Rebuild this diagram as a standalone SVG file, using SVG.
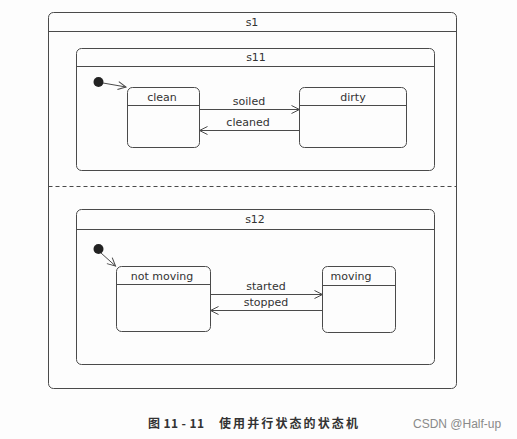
<svg xmlns="http://www.w3.org/2000/svg" width="517" height="439" viewBox="0 0 517 439">
<style>
.box{fill:none;stroke:#4a4a4a;stroke-width:1}
.ln{fill:none;stroke:#4a4a4a;stroke-width:1}
.t{font-family:"DejaVu Sans","Liberation Sans",sans-serif;font-size:11px;fill:#333;text-anchor:middle}
.init{fill:#222}
.edge{fill:none;stroke:#4a4a4a;stroke-width:1;marker-end:url(#open)}
.cap{font-family:"Noto Sans CJK SC",sans-serif;font-size:12px;font-weight:bold;fill:#333}
.wm{font-family:"Liberation Sans",sans-serif;font-size:12px;fill:#8a8a8a}
</style>
<defs>
<marker id="open" markerUnits="userSpaceOnUse" markerWidth="12" markerHeight="12" refX="9" refY="5" orient="auto">
<path d="M1,1 L9,5 L1,9" fill="none" stroke="#4a4a4a" stroke-width="1"/>
</marker>
</defs>
<rect width="517" height="439" fill="#fdfdfd"/>
<g id="s1">
<rect class="box" x="48.5" y="12.5" width="408" height="376" rx="5"/>
<line class="ln" x1="48.5" y1="31.5" x2="456.5" y2="31.5"/>
<text class="t" x="252" y="26">s1</text>
<line x1="48.5" y1="186.5" x2="456.5" y2="186.5" stroke="#4a4a4a" stroke-width="1" stroke-dasharray="4,3"/>
</g>
<g id="s11">
<rect class="box" x="76.5" y="48.5" width="358" height="122" rx="5"/>
<line class="ln" x1="76.5" y1="66.5" x2="434.5" y2="66.5"/>
<text class="t" x="256" y="61">s11</text>
</g>
<g id="init1"><circle class="init" cx="98.5" cy="82" r="5"/></g>
<g id="clean">
<rect class="box" x="127.5" y="87.5" width="72" height="60" rx="5"/>
<line class="ln" x1="127.5" y1="105.5" x2="199.5" y2="105.5"/>
<text class="t" x="162" y="101">clean</text>
</g>
<g id="dirty">
<rect class="box" x="299.5" y="87.5" width="107" height="60" rx="5"/>
<line class="ln" x1="299.5" y1="105.5" x2="406.5" y2="105.5"/>
<text class="t" x="353" y="101">dirty</text>
</g>
<g id="s12">
<rect class="box" x="76.5" y="209.5" width="358" height="155" rx="5"/>
<line class="ln" x1="76.5" y1="229.5" x2="434.5" y2="229.5"/>
<text class="t" x="255" y="223">s12</text>
</g>
<g id="init2"><circle class="init" cx="98.5" cy="249" r="5"/></g>
<g id="notmoving">
<rect class="box" x="116.5" y="266.5" width="94" height="65" rx="5"/>
<line class="ln" x1="116.5" y1="284.5" x2="210.5" y2="284.5"/>
<text class="t" x="162" y="280">not moving</text>
</g>
<g id="moving">
<rect class="box" x="322.5" y="266.5" width="73" height="66" rx="5"/>
<line class="ln" x1="322.5" y1="285.5" x2="395.5" y2="285.5"/>
<text class="t" x="351" y="280">moving</text>
</g>
<g id="connectors">
<line class="edge" x1="103" y1="83" x2="126" y2="87"/>
<line class="edge" x1="199.5" y1="109.5" x2="299.5" y2="109.5"/>
<line class="edge" x1="299.5" y1="130.5" x2="199.5" y2="130.5"/>
<line class="edge" x1="101" y1="253" x2="115.5" y2="266"/>
<line class="edge" x1="210.5" y1="294.5" x2="322.5" y2="294.5"/>
<line class="edge" x1="322.5" y1="310.5" x2="210.5" y2="310.5"/>
<text class="t" x="249" y="105">soiled</text>
<text class="t" x="248" y="126">cleaned</text>
<text class="t" x="266" y="290">started</text>
<text class="t" x="266" y="306">stopped</text>
</g>
<text class="cap" x="148" y="428" letter-spacing="0.4">图 11 - 11</text>
<text class="cap" x="219" y="428" letter-spacing="2.1">使用并行状态的状态机</text>
<text class="wm" x="413" y="428">CSDN @Half-up</text>
</svg>
